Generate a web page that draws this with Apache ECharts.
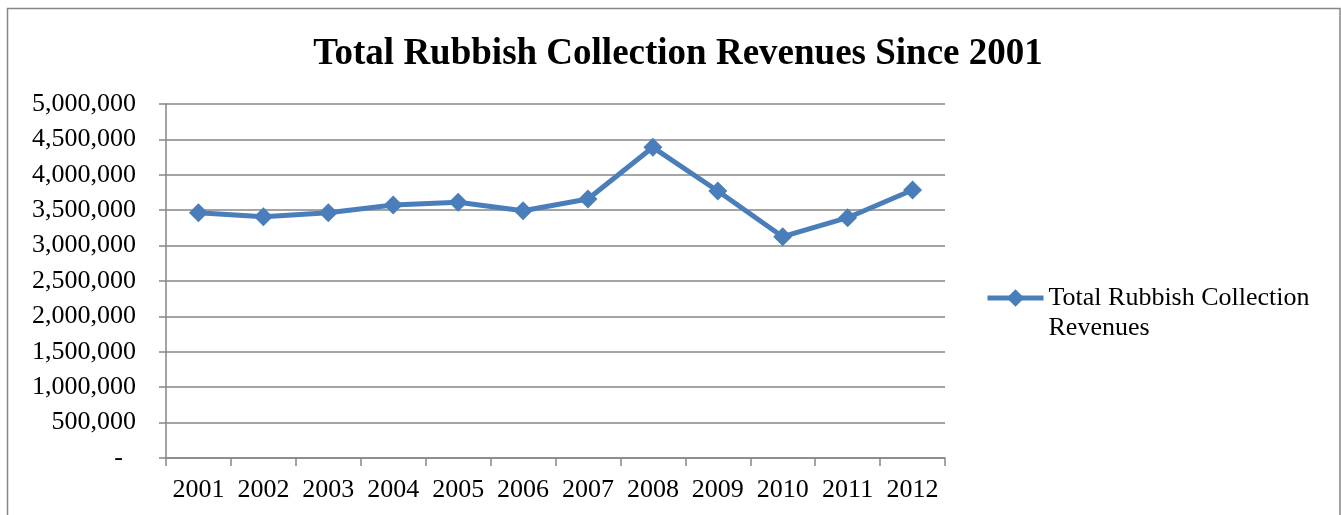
<!DOCTYPE html>
<html>
<head>
<meta charset="utf-8">
<title>Total Rubbish Collection Revenues Since 2001</title>
<script src="https://cdn.jsdelivr.net/npm/echarts@6/dist/echarts.min.js"></script>
<style>
  html, body { margin: 0; padding: 0; background: #ffffff; }
  #chart { width: 1341px; height: 515px; }
</style>
</head>
<body>
<div id="chart"></div>
<script>
// Yearly totals of rubbish collection revenues
const years = ['2001', '2002', '2003', '2004', '2005', '2006', '2007', '2008', '2009', '2010', '2011', '2012'];
const revenues = [3464000, 3408000, 3465000, 3573000, 3611000, 3493000, 3658000, 4388000, 3771000, 3126000, 3394000, 3785000];
const seriesName = 'Total Rubbish Collection Revenues';
const yTicks = { min: 0, max: 5000000, step: 500000 };

const serif = "'Liberation Serif', 'Times New Roman', serif";
const gridGray = '#868686';
const lineBlue = '#4a7ebb';

function formatAmount(v) {
  if (v === 0) return '-  ';
  return v.toString().replace(/\B(?=(\d{3})+(?!\d))/g, ',');
}

const chart = echarts.init(document.getElementById('chart'), null, { renderer: 'canvas' });

chart.setOption({
  backgroundColor: '#ffffff',
  animation: false,
  title: {
    text: 'Total Rubbish Collection Revenues Since 2001',
    left: 673,
    top: 31,
    textAlign: 'center',
    textStyle: { fontFamily: serif, fontSize: 37, fontWeight: 'bold', color: '#000000' }
  },
  graphic: [{
    type: 'rect',
    shape: { x: 7.5, y: 8.5, width: 1332.5, height: 540 },
    style: { fill: 'none', stroke: gridGray, lineWidth: 1.5 },
    silent: true
  }],
  legend: {
    left: 985,
    top: 253,
    padding: 0,
    itemWidth: 56,
    itemHeight: 22,
    itemGap: 0,
    // blank first line keeps the icon level with the first text line
    formatter: () => '\nTotal Rubbish Collection\nRevenues',
    lineStyle: { width: 5 },
    textStyle: { fontFamily: serif, fontSize: 26, color: '#000000', lineHeight: 30 },
    data: [seriesName]
  },
  grid: { left: 166, right: 396, top: 104, bottom: 57, containLabel: false },
  xAxis: {
    type: 'category',
    data: years,
    boundaryGap: true,
    axisLine: { lineStyle: { color: gridGray, width: 1.5 } },
    axisTick: { show: true, interval: 0, length: 8, inside: false, lineStyle: { color: gridGray, width: 1.5 } },
    axisLabel: { interval: 0, fontFamily: serif, fontSize: 26, color: '#000000', margin: 19 },
    splitLine: { show: false }
  },
  yAxis: {
    type: 'value',
    min: yTicks.min,
    max: yTicks.max,
    interval: yTicks.step,
    axisLine: { show: true, lineStyle: { color: gridGray, width: 1.5 } },
    axisTick: { show: true, length: 7, lineStyle: { color: gridGray, width: 1.5 } },
    axisLabel: { fontFamily: serif, fontSize: 26, color: '#000000', margin: 30, formatter: formatAmount },
    splitLine: { show: true, lineStyle: { color: gridGray, width: 1.5 } }
  },
  series: [{
    name: seriesName,
    type: 'line',
    data: revenues,
    symbol: 'diamond',
    symbolSize: 19,
    showAllSymbol: true,
    lineStyle: { color: lineBlue, width: 5 },
    itemStyle: { color: lineBlue, borderWidth: 0 }
  }]
});
</script>
</body>
</html>
